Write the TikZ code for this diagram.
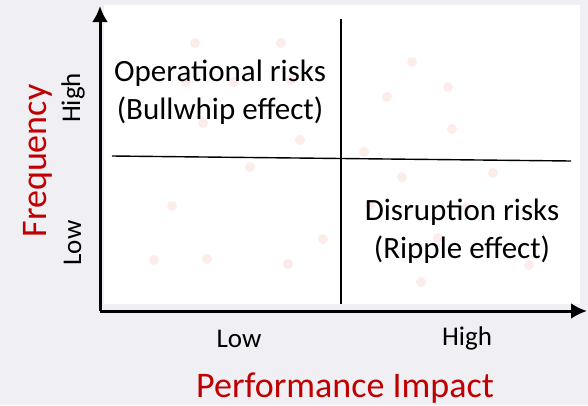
\documentclass[tikz,border=0pt]{standalone}
\usepackage{fontspec}
\setmainfont{Carlito}
\usetikzlibrary{arrows.meta}

\definecolor{riskred}{RGB}{192,0,0}
\definecolor{panelgray}{RGB}{239,239,244}
\definecolor{dotpink}{RGB}{252,236,234}

\begin{document}
\begin{tikzpicture}[x=1pt, y=-1pt,
    axis/.style={line width=3pt, -{Latex[length=16pt,width=16pt]}},
    divider/.style={line width=1.4pt},
    dot/.style={circle, fill=dotpink, inner sep=0pt, minimum size=10pt},
    quadtext/.style={align=center, font=\fontsize{31}{38}\selectfont},
    levellabel/.style={font=\fontsize{27}{30}\selectfont, anchor=base},
    axistitle/.style={text=riskred, font=\fontsize{36}{40}\selectfont, anchor=base}]

% Background and panel
\useasboundingbox (0,0) rectangle (588,405);
\fill [panelgray] (0,0) rectangle (588,405);
\fill [white] (104,5) rectangle (580,304);

% Faint dots
\foreach \px/\py in {195/43, 281/43, 186/82, 234/82, 291/80, 203/123, 300/140,
    412/62, 448/87, 387/97, 452/129, 364/152, 402/177, 493/173, 250/167,
    172/206, 323/239, 154/260, 207/259, 288/264, 370/205, 466/207,
    438/238, 529/265, 421/282}
    \node [dot] at (\px,\py) {};

% Axes
\coordinate (origin) at (100,311);
\coordinate (ytip) at (100,6);
\coordinate (xtip) at (587,311);
\draw [axis] (origin) -- (ytip);
\draw [axis] (origin) -- (xtip);

% Quadrant dividers
\coordinate (vtop) at (341,19);
\coordinate (vbot) at (341,304);
\coordinate (hleft) at (112,156);
\coordinate (hright) at (571,161);
\draw [divider] (vtop) -- (vbot);
\draw [divider] (hleft) -- (hright);

% Quadrant texts
\node [quadtext] (operational) at (220,92) {Operational risks\\(Bullwhip effect)};
\node [quadtext] (disruption) at (462,231) {Disruption risks\\(Ripple effect)};

% Levels
\node [levellabel, rotate=90] (yhigh) at (80,98) {High};
\node [levellabel, rotate=90] (ylow) at (81,243) {Low};
\node [levellabel] (xlow) at (239,347) {Low};
\node [levellabel] (xhigh) at (467,345) {High};

% Axis titles
\node [axistitle, rotate=90] (freq) at (46,161) {Frequency};
\node [axistitle] (impact) at (345,397) {Performance Impact};

\end{tikzpicture}
\end{document}
